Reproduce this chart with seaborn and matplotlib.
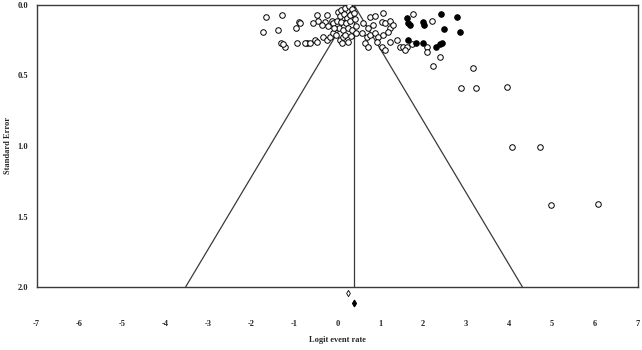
import numpy as np
import pandas as pd
import matplotlib
matplotlib.use("Agg")
import matplotlib.pyplot as plt
import seaborn as sns

# observed studies (open circles): logit event rate, standard error
obs_x = [-1.66, -1.29, -1.73, -1.38, -0.97, -0.90, -1.31, -1.22, -1.27, -0.94, -0.71,
         -0.87, -0.48, -0.45, -0.57, -0.24, -0.29, -0.13, -0.10, -0.36, -0.22,
         -0.76, -0.64, -0.52, -0.48, -0.34, -0.24, -0.17, -0.10, 0.06, 0.10, 0.13, 0.24,
         0.01, 0.08, 0.17, 0.27, 0.34, 0.06, 0.15, 0.22, 0.29, 0.38, -0.01, 0.08, 0.20,
         0.29, 0.41, 0.03, 0.13, 0.24, 0.34, 0.43, -0.03, 0.17, 0.31, 0.43, -0.08,
         0.76, 0.87, 1.06, 0.59, 0.71, 0.83, 1.03, 1.10, 1.22, 1.22, 1.29, 0.57, 0.69,
         0.76, 0.87, 0.94, 1.06, 1.17, 0.64, 0.71, 0.92, 1.03, 1.10, 1.22, 1.38, 1.45,
         1.76, 2.20, 1.52, 1.62, 1.57, 1.73, 2.08, 2.10, 2.22, 2.38,
         3.15, 2.87, 3.24, 3.94, 4.06, 4.71, 4.97, 6.06]
obs_se = [0.085, 0.071, 0.19, 0.18, 0.16, 0.12, 0.27, 0.30, 0.28, 0.27, 0.27,
          0.13, 0.071, 0.11, 0.13, 0.071, 0.12, 0.11, 0.13, 0.14, 0.15,
          0.27, 0.27, 0.25, 0.26, 0.23, 0.25, 0.23, 0.20, 0.25, 0.27, 0.23, 0.26,
          0.05, 0.035, 0.02, 0.01, 0.03, 0.08, 0.064, 0.09, 0.07, 0.057, 0.11, 0.12, 0.13,
          0.11, 0.10, 0.16, 0.18, 0.16, 0.18, 0.15, 0.21, 0.21, 0.22, 0.20, 0.16,
          0.085, 0.078, 0.057, 0.13, 0.16, 0.14, 0.12, 0.13, 0.11, 0.16, 0.14, 0.20, 0.23,
          0.21, 0.20, 0.23, 0.21, 0.19, 0.27, 0.30, 0.26, 0.30, 0.32, 0.26, 0.25, 0.30,
          0.064, 0.11, 0.30, 0.30, 0.32, 0.28, 0.30, 0.33, 0.43, 0.37,
          0.45, 0.59, 0.59, 0.58, 1.01, 1.01, 1.42, 1.41]

# imputed studies (filled circles)
imp_x = [1.62, 1.64, 1.69, 1.99, 2.03, 2.41, 2.48, 2.78, 2.85, 1.64, 1.83, 1.99,
         2.31, 2.38, 2.43]
imp_se = [0.09, 0.13, 0.14, 0.12, 0.14, 0.064, 0.17, 0.085, 0.19, 0.25, 0.27, 0.27,
          0.30, 0.28, 0.27]

pooled = 0.39          # centre of the funnel
est_x = [0.26, 0.39]   # observed / adjusted summary diamonds
est_y = [2.04, 2.11]
se_max = 2.0

xticks = list(range(-7, 8))
yticks = [0.0, 0.5, 1.0, 1.5, 2.0]

obs = pd.DataFrame({"x": obs_x, "se": obs_se})
imp = pd.DataFrame({"x": imp_x, "se": imp_se})

sns.set_style("white")
plt.rcParams["font.family"] = ["Liberation Serif", "DejaVu Serif"]
plt.rcParams["font.weight"] = "bold"

fig = plt.figure(figsize=(6.42, 3.5), dpi=100)
ax = fig.add_axes([36.5 / 642, 1 - 287 / 350, (638 - 36.5) / 642, (287 - 5) / 350])

line_col = "#3a3a3a"
# funnel
ax.plot([pooled - 1.96 * se_max, pooled, pooled + 1.96 * se_max], [se_max, 0, se_max],
        color=line_col, lw=0.9)
ax.plot([pooled, pooled], [0, se_max], color=line_col, lw=0.9)

sns.scatterplot(data=obs, x="x", y="se", ax=ax, marker="o", s=16,
                facecolor="white", edgecolor="black", linewidth=0.7, zorder=3)
sns.scatterplot(data=imp, x="x", y="se", ax=ax, marker="o", s=16,
                color="black", edgecolor="black", linewidth=0.7, zorder=3)

ax.scatter(est_x[:1], est_y[:1], marker="d", s=10, facecolor="white",
           edgecolor="black", linewidth=0.6, clip_on=False, zorder=4)
ax.scatter(est_x[1:], est_y[1:], marker="d", s=10, color="black",
           clip_on=False, zorder=4)

ax.set_xlim(-7, 7)
ax.set_ylim(se_max, 0)
ax.set_xticks(xticks)
ax.set_xticklabels([str(t) for t in xticks])
ax.set_yticks(yticks)
ax.set_yticklabels([f"{t:.1f}" for t in yticks])

for s in ax.spines.values():
    s.set_color(line_col)
    s.set_linewidth(1.0)

ax.tick_params(axis="x", direction="inout", length=3, width=0.8, color=line_col,
               pad=22, labelsize=6)
ax.tick_params(axis="y", direction="out", length=2, width=0.8, color=line_col,
               pad=4, labelsize=6)

ax.set_xlabel("Logit event rate", fontsize=6, fontweight="bold", labelpad=6)
ax.set_ylabel("Standard Error", fontsize=6, fontweight="bold", labelpad=4)

fig.savefig("out.png", dpi=100)
